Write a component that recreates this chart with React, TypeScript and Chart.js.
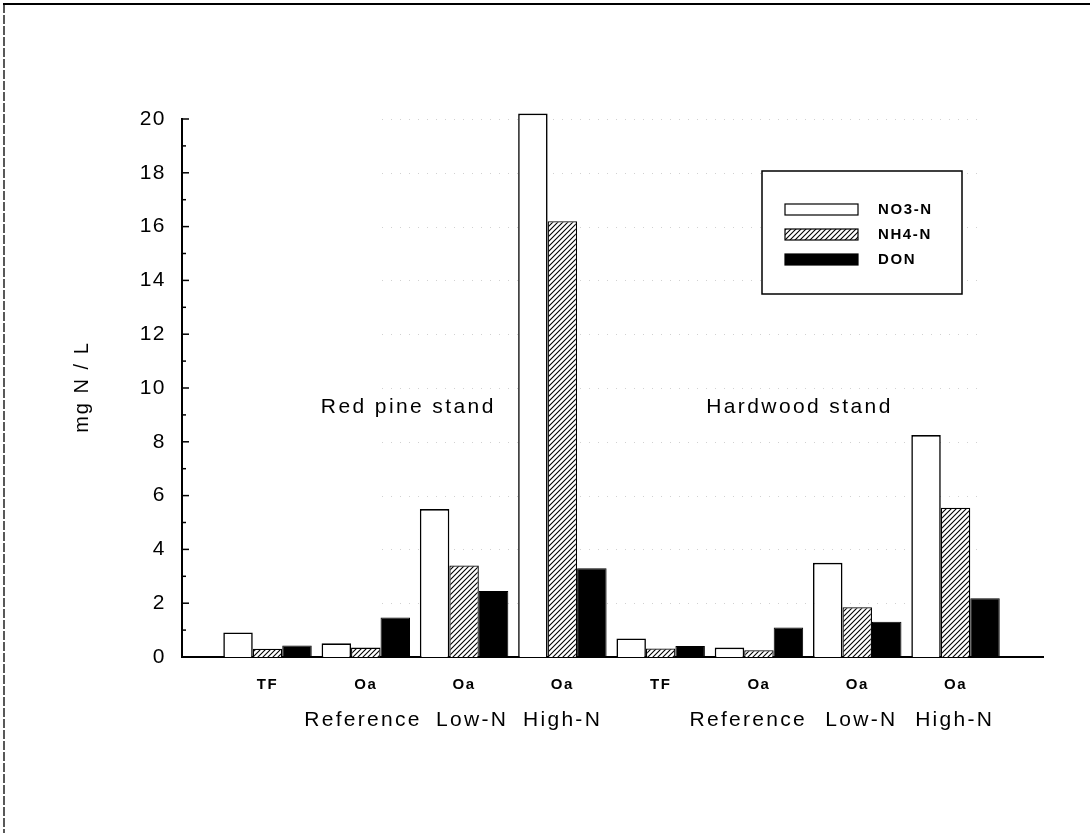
import React, { useEffect, useRef } from 'react';
import { Chart, registerables } from 'chart.js';

Chart.register(...registerables);

// Sample horizon under each bar group, and the treatment / stand captions
const groupLabels = ['TF', 'Oa', 'Oa', 'Oa', 'TF', 'Oa', 'Oa', 'Oa'];
const treatmentLabels = ['Reference', 'Low-N', 'High-N', 'Reference', 'Low-N', 'High-N'];
const standLabels = ['Red pine stand', 'Hardwood stand'];
const seriesNames = ['NO3-N', 'NH4-N', 'DON'];
const yTitle = 'mg N / L';

// Concentrations (mg N / L)
const no3 = [0.91, 0.51, 5.5, 20.2, 0.69, 0.35, 3.5, 8.25];
const nh4 = [0.31, 0.35, 3.4, 16.2, 0.32, 0.25, 1.85, 5.55];
const don = [0.43, 1.47, 2.45, 3.3, 0.41, 1.1, 1.31, 2.18];

const FONT = '"Liberation Sans", Arial, Helvetica, sans-serif';

// where captions sit along the group axis
const treatmentAnchors = [0.96, 2.07, 2.99, 4.88, 6.03, 6.98];
const standAnchors = [1.42, 5.4];

function makeHatch(): CanvasPattern | string {
  const c = document.createElement('canvas');
  const s = 5;
  c.width = s;
  c.height = s;
  const g = c.getContext('2d');
  if (!g) return '#888';
  g.fillStyle = '#fff';
  g.fillRect(0, 0, s, s);
  g.strokeStyle = '#000';
  g.lineWidth = 1.1;
  g.beginPath();
  g.moveTo(-1, s + 1);
  g.lineTo(s + 1, -1);
  g.moveTo(-1, 1);
  g.lineTo(1, -1);
  g.moveTo(s - 1, s + 1);
  g.lineTo(s + 1, s - 1);
  g.stroke();
  const p = g.createPattern(c, 'repeat');
  return p || '#888';
}

function spacedText(
  ctx: CanvasRenderingContext2D,
  text: string,
  x: number,
  y: number,
  font: string,
  spacing: number,
  align: CanvasTextAlign = 'center'
) {
  ctx.save();
  ctx.font = font;
  (ctx as any).letterSpacing = spacing + 'px';
  ctx.fillStyle = '#000';
  ctx.textAlign = align;
  ctx.textBaseline = 'middle';
  ctx.fillText(text, x + (align === 'center' ? spacing / 2 : 0), y);
  ctx.restore();
}

const decor = {
  id: 'decor',
  beforeDraw(chart: any) {
    const ctx: CanvasRenderingContext2D = chart.ctx;
    const { left, right } = chart.chartArea;
    const y = chart.scales.y;
    ctx.save();
    // page frame
    ctx.strokeStyle = '#000';
    ctx.lineWidth = 2;
    ctx.beginPath();
    ctx.moveTo(3, 4);
    ctx.lineTo(chart.width, 4);
    ctx.stroke();
    ctx.lineWidth = 1.3;
    ctx.setLineDash([9, 2]);
    ctx.beginPath();
    ctx.moveTo(4, 4);
    ctx.lineTo(4, chart.height);
    ctx.stroke();
    // faint dotted grid
    ctx.strokeStyle = 'rgba(0,0,0,0.18)';
    ctx.lineWidth = 1;
    ctx.setLineDash([1, 8]);
    for (let v = 2; v <= 20; v += 2) {
      const py = Math.round(y.getPixelForValue(v)) + 0.5;
      ctx.beginPath();
      ctx.moveTo(left + 200, py);
      ctx.lineTo(right - 60, py);
      ctx.stroke();
    }
    ctx.restore();
    (ctx as any).letterSpacing = '1.5px';
  },
  afterDraw(chart: any) {
    const ctx: CanvasRenderingContext2D = chart.ctx;
    const { left, bottom } = chart.chartArea;
    const x = chart.scales.x;
    const y = chart.scales.y;
    ctx.save();
    (ctx as any).letterSpacing = '0px';
    // inward tick marks on the value axis
    ctx.strokeStyle = '#000';
    ctx.lineWidth = 1.5;
    for (let v = 0; v <= 20; v++) {
      const py = y.getPixelForValue(v);
      const len = v % 2 === 0 ? 7 : 4;
      ctx.beginPath();
      ctx.moveTo(left, py);
      ctx.lineTo(left + len, py);
      ctx.stroke();
    }
    ctx.restore();

    // axis title
    ctx.save();
    ctx.translate(82, y.getPixelForValue(10.0));
    ctx.rotate(-Math.PI / 2);
    spacedText(ctx, yTitle, 0, 0, `20px ${FONT}`, 2);
    ctx.restore();

    // treatment captions
    const capY = bottom + 63;
    treatmentLabels.forEach((t, i) => {
      spacedText(ctx, t, x.getPixelForValue(treatmentAnchors[i]), capY, `21px ${FONT}`, 2.3);
    });
    // stand captions
    standLabels.forEach((t, i) => {
      spacedText(ctx, t, x.getPixelForValue(standAnchors[i]), y.getPixelForValue(9.3), `21px ${FONT}`, 2.4);
    });

    // legend box
    const bx = 762, by = 171, bw = 200, bh = 123;
    ctx.save();
    ctx.strokeStyle = '#000';
    ctx.lineWidth = 1.5;
    ctx.fillStyle = '#fff';
    ctx.fillRect(bx, by, bw, bh);
    ctx.strokeRect(bx, by, bw, bh);
    chart.data.datasets.forEach((ds: any, i: number) => {
      const sy = by + 33 + i * 25;
      ctx.fillStyle = ds.backgroundColor;
      ctx.fillRect(bx + 23, sy, 73, 11);
      ctx.lineWidth = 1.2;
      ctx.strokeRect(bx + 23, sy, 73, 11);
      spacedText(ctx, ds.label, bx + 116, sy + 6, `bold 15px ${FONT}`, 1.6, 'left');
    });
    ctx.restore();
  },
};

export default function App() {
  const ref = useRef<HTMLCanvasElement>(null);

  useEffect(() => {
    const canvas = ref.current;
    if (!canvas) return;
    const hatch = makeHatch();
    const toPoints = (arr: number[]) => arr.map((v, i) => ({ x: i, y: v }));
    const common = {
      borderColor: '#000',
      borderSkipped: 'start' as const,
      categoryPercentage: 0.9,
      barPercentage: 1.0,
      clip: false as const,
    };
    const chart = new Chart(canvas, {
      type: 'bar',
      data: {
        datasets: [
          { ...common, label: seriesNames[0], data: toPoints(no3), backgroundColor: '#fff', borderWidth: 1.6 },
          { ...common, label: seriesNames[1], data: toPoints(nh4), backgroundColor: hatch as any, borderWidth: 1.3 },
          { ...common, label: seriesNames[2], data: toPoints(don), backgroundColor: '#000', borderWidth: 1 },
        ],
      },
      options: {
        responsive: false,
        animation: false,
        devicePixelRatio: 1,
        layout: { padding: { left: 0, top: 119, right: 47, bottom: 0 } },
        plugins: { legend: { display: false }, tooltip: { enabled: false } },
        scales: {
          x: {
            type: 'linear',
            offset: false,
            min: -0.87,
            max: 7.89,
            afterBuildTicks: (scale: any) => {
              scale.ticks = groupLabels.map((_, i) => ({ value: i }));
            },
            afterFit: (scale: any) => {
              scale.height = 176;
            },
            ticks: {
              autoSkip: false,
              maxRotation: 0,
              padding: 19,
              color: '#000',
              font: { family: FONT, size: 15, weight: 'bold' },
              callback: (v: any) => groupLabels[Number(v)] ?? '',
            },
            grid: { display: false, drawTicks: false },
            border: { display: true, color: '#000', width: 2 },
          },
          y: {
            min: 0,
            max: 20,
            afterFit: (scale: any) => {
              scale.width = 182;
            },
            ticks: {
              stepSize: 2,
              padding: 16,
              color: '#000',
              font: { family: FONT, size: 21 },
            },
            grid: { display: false, drawTicks: false },
            border: { display: true, color: '#000', width: 2 },
          },
        },
      },
      plugins: [decor],
    });
    return () => chart.destroy();
  }, []);

  return (
    <div style={{ position: 'fixed', left: 0, top: 0, width: 1090, height: 833, background: '#fff' }}>
      <canvas ref={ref} width={1090} height={833} style={{ display: 'block' }} />
    </div>
  );
}
